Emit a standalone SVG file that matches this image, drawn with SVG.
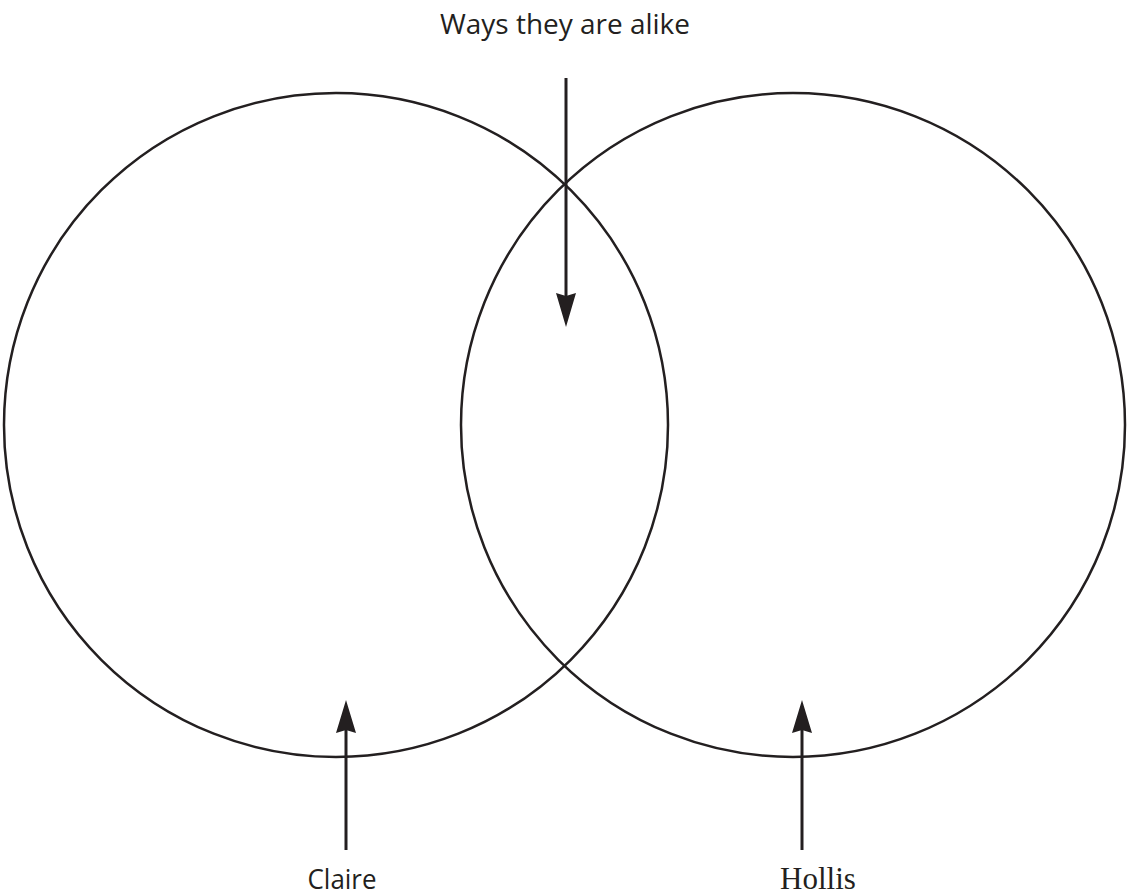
<svg xmlns="http://www.w3.org/2000/svg" width="1128" height="895" viewBox="0 0 1128 895">
<style>
.c{fill:none;stroke:#231f20;stroke-width:2.5}
.a{stroke:#231f20;stroke-width:3;fill:none}
.h{fill:#231f20}
.s{font-family:"Open Sans","Liberation Sans",sans-serif;fill:#231f20}
.r{font-family:"Liberation Serif","Times New Roman",serif;fill:#231f20}
</style>
<rect width="1128" height="895" fill="#fff"/>
<g id="claire-circle"><circle class="c" cx="336" cy="425" r="332"/></g>
<g id="hollis-circle"><circle class="c" cx="793" cy="425" r="332"/></g>
<g id="connectors">
<line class="a" x1="566" y1="78" x2="566" y2="298"/>
<path class="h" d="M556,293 L566,296 L576,293 L566,327 Z"/>
<line class="a" x1="346" y1="850" x2="346" y2="728"/>
<path class="h" d="M336,733 L346,730 L356,733 L346,700 Z"/>
<line class="a" x1="802" y1="850" x2="802" y2="728"/>
<path class="h" d="M792,733 L802,730 L812,733 L802,700 Z"/>
</g>
<g id="label-alike"><text class="s" x="565" y="34" font-size="27" text-anchor="middle" textLength="250" lengthAdjust="spacingAndGlyphs">Ways they are alike</text></g>
<g id="label-claire"><text class="s" x="342" y="889" font-size="27" text-anchor="middle" textLength="69" lengthAdjust="spacingAndGlyphs">Claire</text></g>
<g id="label-hollis"><text class="r" x="818" y="889" font-size="31" text-anchor="middle">Hollis</text></g>
</svg>
